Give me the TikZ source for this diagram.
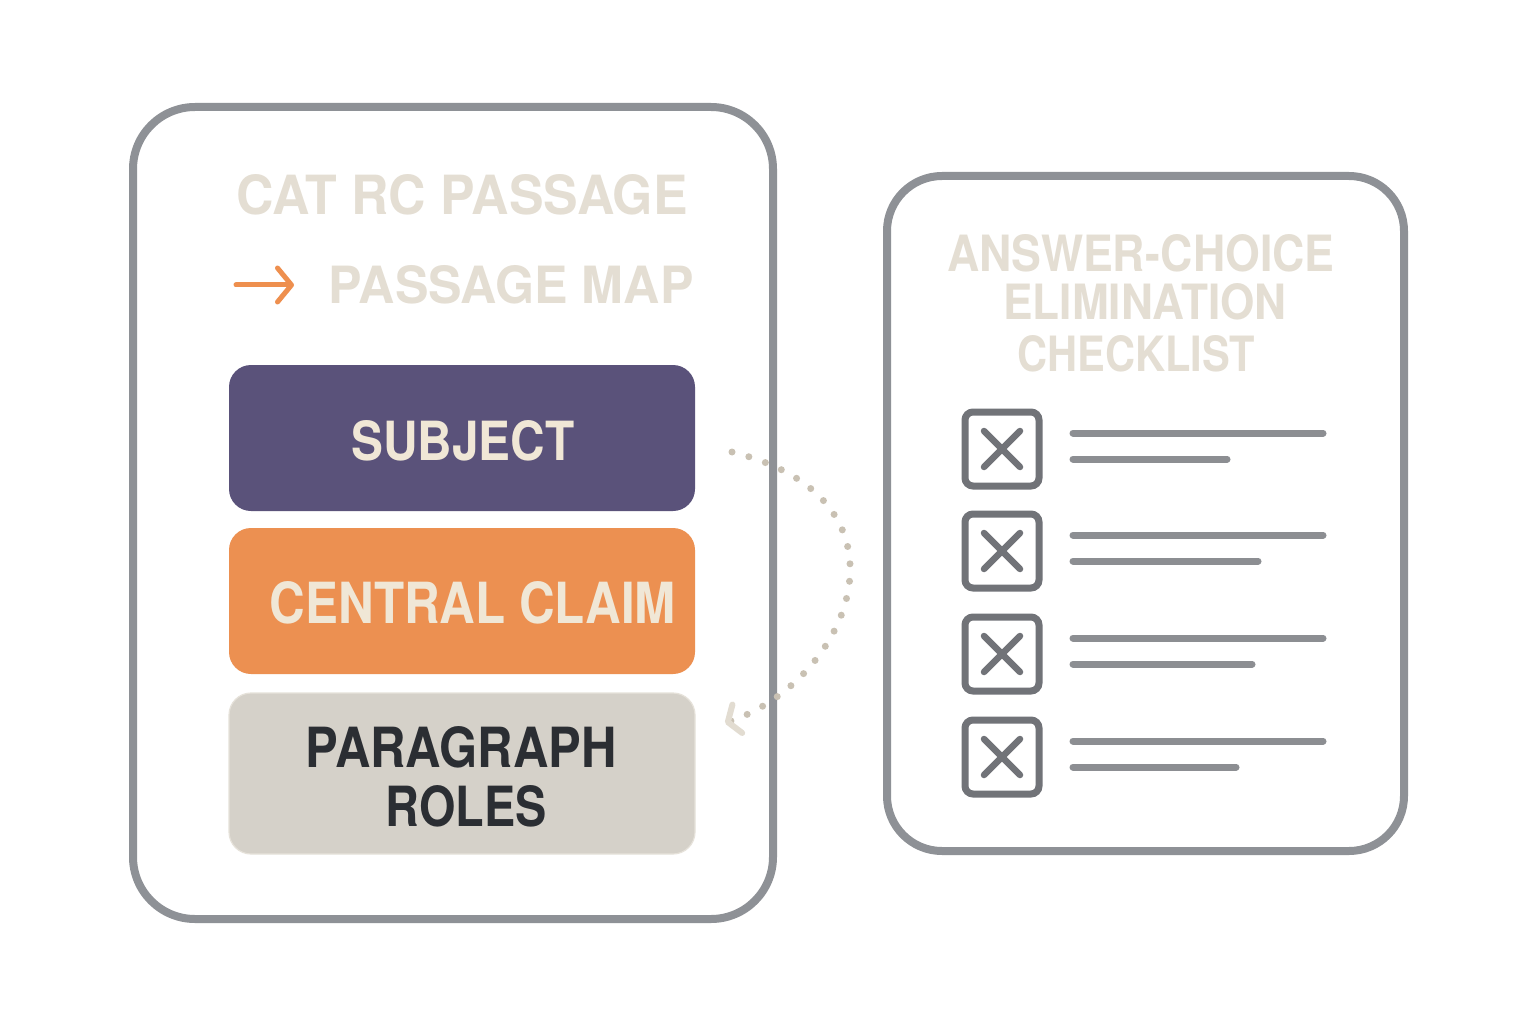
\documentclass[tikz,border=0pt]{standalone}
\usepackage{fontspec}
\usepackage{graphicx}
\setmainfont{TeX Gyre Heros}
\usetikzlibrary{arrows.meta}
\definecolor{cardgray}{HTML}{8E9196}
\definecolor{titlecol}{HTML}{E4DED3}
\definecolor{subjcol}{HTML}{5A527A}
\definecolor{claimcol}{HTML}{EC9051}
\definecolor{rolecol}{HTML}{D5D1C9}
\definecolor{roleedge}{HTML}{E6E2DA}
\definecolor{creamtxt}{HTML}{F0E7D6}
\definecolor{darktxt}{HTML}{2B2E33}
\definecolor{arrorange}{HTML}{EE8F4E}
\definecolor{dotcol}{HTML}{C9C1B3}
\definecolor{tipcol}{HTML}{E2DCD1}
\definecolor{chkgray}{HTML}{717378}
\definecolor{linegray}{HTML}{8C8E92}
\newcommand{\fitt}[3]{\resizebox{#1pt}{#2pt}{\bfseries #3}}
\tikzset{
  card/.style={draw=cardgray, line width=8pt, fill=white, rounded corners=#1},
  mapbox/.style={rounded corners=22pt, inner sep=0pt},
  txt/.style={inner sep=0pt, anchor=center},
  chk/.style={draw=chkgray, line width=7pt, rounded corners=8pt, minimum size=74pt, inner sep=0pt},
  xmark/.style={draw=chkgray, line width=6.5pt, line cap=round},
  tline/.style={draw=linegray, line width=7pt, line cap=round},
}
\begin{document}
\begin{tikzpicture}[x=1pt,y=-1pt]
\useasboundingbox[fill=white] (0,0) rectangle (1536,1024);
% cards
\draw[card=62pt] (133,107) rectangle (773,919);
\draw[card=55pt] (887,176) rectangle (1404,851);
% left titles
\node[txt, text=titlecol] (t1) at (462,195) {\fitt{451}{40}{CAT RC PASSAGE}};
\node[txt, text=titlecol] (t2) at (511,285) {\fitt{365}{38}{PASSAGE MAP}};
\coordinate (a0) at (236,285);
\coordinate (a1) at (294,285);
\draw[arrorange, line width=5pt, line cap=round, -{Straight Barb[length=14pt,width=34pt,line cap=round,line join=round]}] (a0) -- (a1);
% map boxes
\path[mapbox, fill=subjcol] (229,365) rectangle (695,511);
\node[txt, text=creamtxt] (subj) at (463,441) {\fitt{223}{40}{SUBJECT}};
\path[mapbox, fill=claimcol] (229,528) rectangle (695,674);
\node[txt, text=creamtxt] (claim) at (473,603) {\fitt{406}{42}{CENTRAL CLAIM}};
\path[mapbox, fill=rolecol, draw=roleedge, line width=1.2pt] (229,693) rectangle (695,854);
\node[txt, text=darktxt] (roles1) at (461,747) {\fitt{311}{41}{PARAGRAPH}};
\node[txt, text=darktxt] (roles2) at (466,806) {\fitt{161}{41}{ROLES}};
\coordinate (subjbox) at (695,441);
\coordinate (rolebox) at (695,722);
% dotted connector
\coordinate (ds) at ([xshift=37pt,yshift=-11pt]subjbox);
\coordinate (de) at ([xshift=30pt,yshift=-1pt]rolebox);
\draw[dotcol, line width=7pt, line cap=round, dash pattern=on 0pt off 17.5pt,
  -{Straight Barb[length=10pt,width=30pt,line width=6pt,line cap=round,line join=round,color=tipcol]}]
  (ds) .. controls (925,500) and (850,680) .. (de);
% right title
\node[txt, text=titlecol] (r1) at (1141,253) {\fitt{387}{37}{ANSWER-CHOICE}};
\node[txt, text=titlecol] (r2) at (1145,302) {\fitt{283}{36}{ELIMINATION}};
\node[txt, text=titlecol] (r3) at (1136,354) {\fitt{238}{36}{CHECKLIST}};
% checklist
\foreach \cy/\ex [count=\i] in {449/1227, 551/1258, 654/1252, 757/1236}{
  \node[chk] (b\i) at (1002,\cy) {};
  \draw[xmark] ([xshift=-18pt,yshift=-18pt]b\i.center) -- ([xshift=18pt,yshift=18pt]b\i.center);
  \draw[xmark] ([xshift=-18pt,yshift=18pt]b\i.center) -- ([xshift=18pt,yshift=-18pt]b\i.center);
  \coordinate (la\i) at (1073,\cy-16);
  \coordinate (lb\i) at (1323,\cy-16);
  \coordinate (lc\i) at (1073,\cy+10);
  \coordinate (ld\i) at (\ex,\cy+10);
  \draw[tline] (la\i) -- (lb\i);
  \draw[tline] (lc\i) -- (ld\i);
}
\end{tikzpicture}
\end{document}
